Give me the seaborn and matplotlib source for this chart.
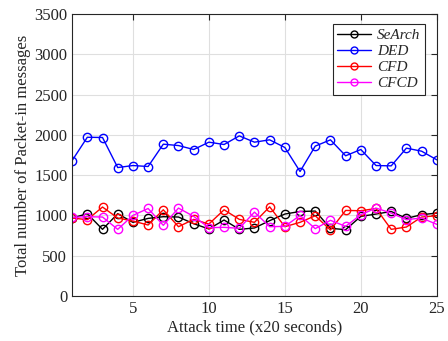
import matplotlib
matplotlib.use("Agg")
import matplotlib.pyplot as plt
import seaborn as sns
import pandas as pd
from matplotlib.lines import Line2D

attack_time = list(range(1, 26))
searh = [968, 1021, 827, 1021, 914, 963, 984, 980, 897, 832, 943, 827, 844, 935, 1017,
         1049, 1054, 840, 823, 988, 1017, 1049, 963, 1009, 1029]
ded = [1681, 1970, 1967, 1594, 1619, 1607, 1884, 1867, 1818, 1909, 1880, 1987, 1909, 1938, 1843,
       1545, 1860, 1938, 1740, 1818, 1619, 1615, 1835, 1797, 1690]
cfd = [968, 947, 1104, 968, 930, 881, 1070, 860, 951, 893, 1070, 951, 914, 1107, 860,
       914, 996, 819, 1062, 1058, 1086, 827, 856, 980, 996]
cfcd = [976, 984, 980, 827, 1000, 1086, 877, 1091, 988, 848, 852, 840, 1041, 860, 864,
        1000, 836, 939, 864, 1009, 1091, 1029, 947, 968, 889]
series_names = ["SeArch", "DED", "CFD", "CFCD"]
colors = ["#000000", "#0000ff", "#ff0000", "#ff00ff"]

frames = []
for name, vals in zip(series_names, [searh, ded, cfd, cfcd]):
    frames.append(pd.DataFrame({"t": attack_time, "v": vals, "s": name}))
df = pd.concat(frames, ignore_index=True)

sns.set_style("white")
plt.rcParams['font.family'] = ['Liberation Serif', 'DejaVu Serif']

fig = plt.figure(figsize=(4.48, 3.41), dpi=100)
ax = fig.add_axes([0.161, 0.132, 0.814, 0.827])

palette = dict(zip(series_names, colors))
sns.lineplot(data=df, x="t", y="v", hue="s", palette=palette, hue_order=series_names,
             marker="o", markersize=6, markerfacecolor="none", markeredgewidth=1.0,
             linewidth=1.0, legend=False, ax=ax)
for line, c in zip(ax.get_lines(), colors):
    line.set_markeredgecolor(c)

ax.set_xlim(1, 25)
ax.set_ylim(0, 3500)
ax.set_xticks([5, 10, 15, 20, 25])
ax.set_yticks(range(0, 3501, 500))
ax.grid(True, color="#dfdfdf", linewidth=0.8)
ax.set_axisbelow(True)
for sp in ax.spines.values():
    sp.set_color("#262626")
    sp.set_linewidth(0.8)
ax.tick_params(direction="in", top=True, right=True, length=4, width=0.8,
               colors="#262626", labelsize=12, labelcolor="#262626")
ax.set_xlabel("Attack time (x20 seconds)", fontsize=12, color="#262626", labelpad=2)
ax.set_ylabel("Total number of Packet-in messages", fontsize=12, color="#262626", labelpad=2)

handles = [Line2D([0], [0], color=c, marker="o", markerfacecolor="none", markeredgecolor=c,
                  markersize=5, linewidth=1.0) for c in colors]
leg = ax.legend(handles, series_names, loc="upper right", bbox_to_anchor=(0.967, 0.965),
                prop={"family": "Liberation Serif", "style": "italic", "size": 11},
                frameon=True, fancybox=False, edgecolor="#262626", framealpha=1,
                handlelength=2.2, handletextpad=0.4, borderpad=0.3, labelspacing=0.15,
                borderaxespad=0.0)
leg.get_frame().set_linewidth(0.8)

fig.savefig("out.png", dpi=100)
